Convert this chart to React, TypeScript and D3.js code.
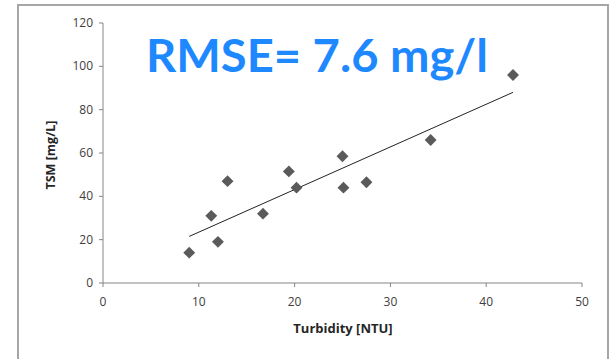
import React from "react";
import * as d3 from "d3";

const turbidity = [9, 11.3, 12, 13, 16.7, 19.4, 20.2, 25, 25.1, 27.5, 34.2, 42.8];
const tsm = [14, 31, 19, 47, 32, 51.5, 44, 58.5, 44, 46.5, 66, 96];
const xTicks = [0, 10, 20, 30, 40, 50];
const yTicks = [0, 20, 40, 60, 80, 100, 120];
// trend line ends
const trendX = [9, 42.8];
const trendY = [21.5, 88];

const App = () => {
	const width = 611;
	const height = 359;
	const left = 103;
	const right = 582;
	const top = 23;
	const bottom = 283;

	const xScale = d3.scaleLinear().domain([0, 50]).range([left, right]);
	const yScale = d3.scaleLinear().domain([0, 120]).range([bottom, top]);
	const line = d3
		.line<number>()
		.x((d) => xScale(trendX[d]))
		.y((d) => yScale(trendY[d]));
	const diamond = d3.symbol().type(d3.symbolDiamond2).size(90)();

	const axisColor = "#868686";
	const labelFont = "Open Sans, DejaVu Sans, sans-serif";

	return (
		<svg
			width={width}
			height={height}
			style={{ position: "absolute", left: 0, top: 0 }}
		>
			<rect width={width} height={height} fill="#fff" />
			{/* outer frame */}
			<path
				d={`M18,${height} V5 H608 V${height}`}
				fill="none"
				stroke="#a6a6a6"
				strokeWidth={2}
			/>
			{/* axes */}
			<line x1={left} x2={left} y1={top} y2={bottom} stroke={axisColor} />
			<line x1={left} x2={right} y1={bottom} y2={bottom} stroke={axisColor} />
			{yTicks.map((t) => (
				<g key={"y" + t}>
					<line
						x1={left - 4}
						x2={left}
						y1={yScale(t)}
						y2={yScale(t)}
						stroke={axisColor}
					/>
					<text
						x={left - 10}
						y={yScale(t) + 4}
						textAnchor="end"
						fontSize={12}
						fontFamily={labelFont}
						fill="#404040"
					>
						{t}
					</text>
				</g>
			))}
			{xTicks.map((t) => (
				<g key={"x" + t}>
					<line
						x1={xScale(t)}
						x2={xScale(t)}
						y1={bottom}
						y2={bottom + 4}
						stroke={axisColor}
					/>
					<text
						x={xScale(t)}
						y={bottom + 23}
						textAnchor="middle"
						fontSize={12}
						fontFamily={labelFont}
						fill="#404040"
					>
						{t}
					</text>
				</g>
			))}
			<text
				x={343}
				y={333}
				textAnchor="middle"
				fontSize={13}
				fontWeight="bold"
				fontFamily={labelFont}
				fill="#262626"
			>
				Turbidity [NTU]
			</text>
			<text
				transform="translate(55,155) rotate(-90)"
				textAnchor="middle"
				fontSize={12.5}
				fontWeight="bold"
				fontFamily={labelFont}
				fill="#262626"
			>
				TSM [mg/L]
			</text>
			{/* trend line */}
			<path d={line([0, 1]) || ""} fill="none" stroke="#222" strokeWidth={1} />
			{turbidity.map((x, i) => (
				<path
					key={i}
					d={diamond || ""}
					transform={`translate(${xScale(x)},${yScale(tsm[i])})`}
					fill="#5a5a5a"
				/>
			))}
			<text
				x={146}
				y={72}
				fontSize={46}
				fontWeight="bold"
				fontFamily="Lato, Open Sans, sans-serif"
				fill="#1e88ff"
				textLength={342}
				lengthAdjust="spacingAndGlyphs"
			>
				RMSE= 7.6 mg/l
			</text>
		</svg>
	);
};

export default App;
